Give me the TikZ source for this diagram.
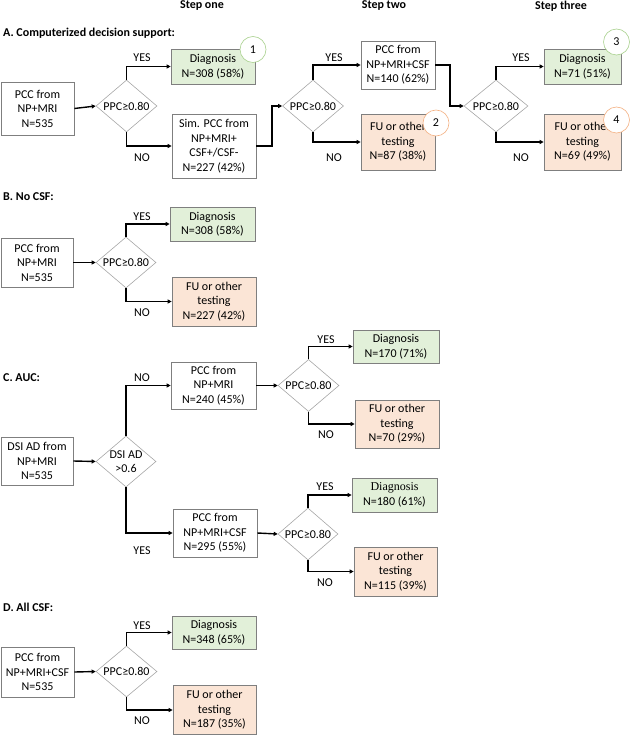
\documentclass[tikz,border=0pt]{standalone}
\usepackage{fontspec}
\setmainfont{Carlito}
\newfontfamily\serifd{Liberation Serif}
\usetikzlibrary{shapes.geometric,arrows.meta}
\definecolor{gfill}{HTML}{E2F0D9}
\definecolor{ofill}{HTML}{FBE5D6}
\definecolor{bord}{HTML}{7F7F7F}
\definecolor{dbord}{HTML}{A6A6A6}
\definecolor{gcirc}{HTML}{A9D18E}
\definecolor{ocirc}{HTML}{F4B183}
\tikzset{
  txt/.style={font=\fontsize{12}{14.5}\selectfont, align=center, inner sep=0pt},
  box/.style={txt, draw=bord, line width=0.7pt, fill=white},
  gbox/.style={box, fill=gfill},
  obox/.style={box, fill=ofill},
  dia/.style={diamond, draw=dbord, line width=0.6pt, inner sep=0pt, minimum width=61pt, minimum height=52pt},
  arr/.style={line width=1.4pt, -{Triangle[length=4pt,width=4pt]}},
  lab/.style={txt},
  ttl/.style={font=\bfseries\fontsize{12}{14}\selectfont, inner sep=0pt},
  circ/.style={circle, draw, fill=white, line width=0.6pt, minimum size=26pt, inner sep=0pt, font=\fontsize{12}{14}\selectfont},
}
\newcommand{\bx}[6]{\node[#1, minimum width=#4pt, minimum height=#5pt] (#2) at (#3) {#6};}
\begin{document}
\begin{tikzpicture}[x=1pt,y=-1pt]
\useasboundingbox (0,0) rectangle (631,735);
% headers
\node[ttl] (h1) at (202,6) {Step one};
\node[ttl] (h2) at (384,6) {Step two};
\node[ttl] (h3) at (561,6) {Step three};
\node[ttl, anchor=west] (tA) at (3,33) {A. Computerized decision support:};
\node[ttl, anchor=west] (tB) at (3,197) {B. No CSF:};
\node[ttl, anchor=west] (tC) at (3,378) {C. AUC:};
\node[ttl, anchor=west] (tD) at (3,607) {D. All CSF:};

% ---------- A ----------
\bx{box}{a0}{37.5,108.5}{73}{53}{PCC from\\NP+MRI\\N=535}
\node[dia] (da1) at (126.5,106) {};
\node[txt] (da1t) at (da1) {PPC≥0.80};
\bx{gbox}{a1}{213,66.5}{84}{35}{Diagnosis\\N=308 (58\%)}
\bx{box}{a2}{214,146}{84}{64}{Sim. PCC from\\NP+MRI+\\CSF+/CSF-\\N=227 (42\%)}
\node[dia] (da2) at (313,106) {};
\node[txt] (da2t) at (da2) {PPC≥0.80};
\bx{box}{a3}{398,65}{74}{48}{PCC from\\NP+MRI+CSF\\N=140 (62\%)}
\bx{obox}{a4}{398,142}{74}{56}{FU or other\\testing\\N=87 (38\%)}
\node[dia, minimum width=64pt] (da3) at (496,106) {};
\node[txt] (da3t) at (da3) {PPC≥0.80};
\bx{gbox}{a5}{582.5,66.5}{77}{35}{Diagnosis\\N=71 (51\%)}
\bx{obox}{a6}{582.5,142}{77}{56}{FU or other\\testing\\N=69 (49\%)}
\node[circ, draw=gcirc] (c1) at (253,49.5) {1};
\node[circ, draw=ocirc] (c2) at (436,123) {2};
\node[circ, draw=gcirc] (c3) at (616.5,42) {3};
\node[circ, draw=ocirc] (c4) at (616.5,120) {4};
\coordinate (k1) at (272,106);
\coordinate (k2) at (450,106);
\draw[arr] (a0.east) -- (da1.west);
\draw[arr] (da1.north) |- (a1.west);
\draw[arr] (da1.south) |- (a2.west);
\draw[arr] (a2.east) -| (k1) -- (da2.west);
\draw[arr] (da2.north) |- (a3.west);
\draw[arr] (da2.south) |- (a4.west);
\draw[arr] (a3.east) -| (k2) -- (da3.west);
\draw[arr] (da3.north) |- (a5.west);
\draw[arr] (da3.south) |- (a6.west);
\node[lab] (ly1) at (142,58) {YES};
\node[lab] (ln1) at (142,158) {NO};
\node[lab] (ly2) at (334,58) {YES};
\node[lab] (ln2) at (334,158) {NO};
\node[lab] (ly3) at (521,58) {YES};
\node[lab] (ln3) at (521,158) {NO};

% ---------- B ----------
\bx{box}{b0}{37,262.5}{72}{49}{PCC from\\NP+MRI\\N=535}
\node[dia, minimum width=60pt, minimum height=51pt] (db) at (126,262.5) {};
\node[txt] (dbt) at (db) {PPC≥0.80};
\bx{gbox}{b1}{212.5,224}{85}{34}{Diagnosis\\N=308 (58\%)}
\bx{obox}{b2}{214,301.5}{84}{49}{FU or other\\testing\\N=227 (42\%)}
\draw[arr] (b0.east) -- (db.west);
\draw[arr] (db.north) |- (b1.west);
\draw[arr] (db.south) |- (b2.west);
\node[lab] (lyb) at (142,217) {YES};
\node[lab] (lnb) at (142,313) {NO};

% ---------- C ----------
\bx{box}{c0}{37,461}{72}{48}{DSI AD from\\NP+MRI\\N=535}
\node[dia, minimum width=60pt, minimum height=51pt] (dc) at (126,461.5) {};
\node[txt] (dct) at (dc) {DSI AD\\>0.6};
\bx{box}{cc1}{213.5,385.5}{85}{47}{PCC from\\NP+MRI\\N=240 (45\%)}
\bx{box}{cc2}{215,533}{84}{48}{PCC from\\NP+MRI+CSF\\N=295 (55\%)}
\node[dia] (dc1) at (308.5,385.5) {};
\node[txt] (dc1t) at (dc1) {PPC≥0.80};
\node[dia, minimum width=60pt] (dc2) at (308,534) {};
\node[txt] (dc2t) at (dc2) {PPC≥0.80};
\bx{gbox}{cc3}{396,346.5}{86}{33}{Diagnosis\\N=170 (71\%)}
\bx{obox}{cc4}{397,424}{84}{48}{FU or other\\testing\\N=70 (29\%)}
\bx{gbox}{cc5}{394.5,495}{85}{34}{{\serifd Diagnosis}\\N=180 (61\%)}
\bx{obox}{cc6}{395.5,571.5}{83}{49}{FU or other\\testing\\N=115 (39\%)}
\draw[arr] (c0.east) -- (dc.west);
\draw[arr] (dc.north) |- (cc1.west);
\draw[arr] (dc.south) |- (cc2.west);
\draw[arr] (cc1.east) -- (dc1.west);
\draw[arr] (cc2.east) -- (dc2.west);
\draw[arr] (dc1.north) |- (cc3.west);
\draw[arr] (dc1.south) |- (cc4.west);
\draw[arr] (dc2.north) |- (cc5.west);
\draw[arr] (dc2.south) |- (cc6.west);
\node[lab] (lnc) at (142,378) {NO};
\node[lab] (lyc) at (142,551) {YES};
\node[lab] (lyc1) at (326,340) {YES};
\node[lab] (lnc1) at (326,435) {NO};
\node[lab] (lyc2) at (325,487) {YES};
\node[lab] (lnc2) at (325,583) {NO};

% ---------- D ----------
\bx{box}{d0}{37.5,672}{73}{50}{PCC from\\NP+MRI+CSF\\N=535}
\node[dia, minimum height=51pt] (dd) at (126.5,671.5) {};
\node[txt] (ddt) at (dd) {PPC≥0.80};
\bx{gbox}{d1}{214,632.5}{84}{33}{Diagnosis\\N=348 (65\%)}
\bx{obox}{d2}{214.5,710}{83}{49}{FU or other\\testing\\N=187 (35\%)}
\draw[arr] (d0.east) -- (dd.west);
\draw[arr] (dd.north) |- (d1.west);
\draw[arr] (dd.south) |- (d2.west);
\node[lab] (lyd) at (142,626) {YES};
\node[lab] (lnd) at (142,721) {NO};
\end{tikzpicture}
\end{document}
